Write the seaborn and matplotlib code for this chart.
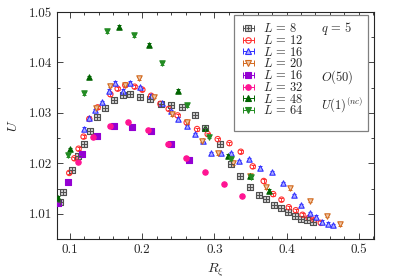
import numpy as np
import matplotlib
matplotlib.use("Agg")
import matplotlib.pyplot as plt
import seaborn as sns
from matplotlib.lines import Line2D
from matplotlib.legend_handler import HandlerLine2D, HandlerTuple
from matplotlib.ticker import MultipleLocator

# q = 5
x_l8 = [0.0859, 0.0907, 0.1028, 0.1108, 0.1188, 0.1281, 0.1374, 0.1485, 0.1604, 0.1732, 0.1836,
        0.1974, 0.2113, 0.2258, 0.2404, 0.2556, 0.2730, 0.2875, 0.3083, 0.3236, 0.3360, 0.3489,
        0.3614, 0.3717, 0.3825, 0.3918, 0.4021, 0.4116, 0.4199, 0.4286, 0.4372]
u_l8 = [1.0124, 1.0143, 1.0186, 1.0215, 1.0239, 1.0265, 1.0292, 1.0309, 1.0326, 1.0336, 1.0338,
        1.0331, 1.0328, 1.0318, 1.0316, 1.0312, 1.0295, 1.0271, 1.0238, 1.0199, 1.0175, 1.0154,
        1.0138, 1.0129, 1.0117, 1.0112, 1.0103, 1.0096, 1.0090, 1.0087, 1.0083]

x_l12 = [0.0990, 0.1060, 0.1119, 0.1188, 0.1267, 0.1383, 0.1559, 0.1660, 0.1766, 0.1895, 0.2002,
         0.2123, 0.2252, 0.2367, 0.2491, 0.2616, 0.2760, 0.2907, 0.3046, 0.3208, 0.3365, 0.3531,
         0.3683, 0.3814, 0.3929, 0.4030, 0.4127, 0.4220, 0.4306, 0.4386, 0.4473]
u_l12 = [1.0181, 1.0210, 1.0229, 1.0253, 1.0288, 1.0311, 1.0337, 1.0348, 1.0355, 1.0352, 1.0346,
         1.0334, 1.0318, 1.0308, 1.0295, 1.0281, 1.0268, 1.0258, 1.0248, 1.0240, 1.0223, 1.0194,
         1.0165, 1.0139, 1.0128, 1.0113, 1.0107, 1.0098, 1.0092, 1.0088, 1.0082]

x_l16 = [0.1188, 0.1267, 0.1344, 0.1437, 0.1534, 0.1624, 0.1732, 0.1836, 0.1974, 0.2123, 0.2272,
         0.2400, 0.2501, 0.2616, 0.2733, 0.2838, 0.2958, 0.3093, 0.3231, 0.3337, 0.3481, 0.3638,
         0.3797, 0.3947, 0.4098, 0.4202, 0.4317, 0.4410, 0.4493, 0.4570, 0.4649]
u_l16 = [1.0269, 1.0290, 1.0305, 1.0321, 1.0344, 1.0360, 1.0344, 1.0360, 1.0351, 1.0334, 1.0319,
         1.0303, 1.0288, 1.0274, 1.0258, 1.0245, 1.0220, 1.0220, 1.0220, 1.0204, 1.0208, 1.0191,
         1.0182, 1.0161, 1.0137, 1.0117, 1.0101, 1.0094, 1.0084, 1.0080, 1.0077]

x_l20 = [0.1360, 0.1556, 0.1762, 0.1949, 0.2168, 0.2408, 0.2616, 0.2830, 0.3046, 0.3263, 0.3495,
         0.3717, 0.4040, 0.4317, 0.4555, 0.4744]
u_l20 = [1.0310, 1.0354, 1.0356, 1.0369, 1.0332, 1.0297, 1.0281, 1.0245, 1.0220, 1.0200, 1.0174,
         1.0153, 1.0151, 1.0126, 1.0096, 1.0079]

# O(50)
x_o16 = [0.0838, 0.0970, 0.1166, 0.1371, 0.1614, 0.1859, 0.2127, 0.2394, 0.2653]
u_o16 = [1.0121, 1.0164, 1.0218, 1.0255, 1.0274, 1.0273, 1.0264, 1.0238, 1.0207]
x_o32 = [0.1105, 0.1313, 0.1554, 0.1804, 0.2081, 0.2362, 0.2612, 0.2875, 0.3129, 0.3384]
u_o32 = [1.0203, 1.0252, 1.0274, 1.0282, 1.0266, 1.0238, 1.0211, 1.0182, 1.0159, 1.0136]

# U(1) non compact
x_u48 = [0.083, 0.0995, 0.127, 0.168, 0.209, 0.250, 0.287, 0.319, 0.349, 0.376]
u_u48 = [1.0132, 1.0228, 1.0371, 1.0471, 1.0435, 1.0344, 1.0271, 1.0215, 1.0175, 1.0146]
x_u64 = [0.097, 0.120, 0.151, 0.189, 0.227, 0.262, 0.293, 0.323, 0.351]
u_u64 = [1.0216, 1.0339, 1.0462, 1.0454, 1.0398, 1.0315, 1.0253, 1.0209, 1.0172]

err = 0.0003

sns.set_style("ticks")
plt.rcParams["font.family"] = ["cmr10", "DejaVu Serif"]
plt.rcParams["mathtext.fontset"] = "cm"
plt.rcParams["axes.formatter.use_mathtext"] = True
plt.rcParams["axes.unicode_minus"] = False

fig = plt.figure(figsize=(3.95, 2.8), dpi=100)
ax = fig.add_axes([0.1443, 0.1464, 0.8025, 0.8106])

# (x, y, color, marker, face, label)
series = [
    (x_l8, u_l8, "#505050", "s", "#d0d0d0", r"$L\,=\,8$"),
    (x_l12, u_l12, "#ff3030", "o", "none", r"$L\,=\,12$"),
    (x_l16, u_l16, "#3030ff", "^", "#b0b0ff", r"$L\,=\,16$"),
    (x_l20, u_l20, "#d2691e", "v", "#f0c8a8", r"$L\,=\,20$"),
    (x_o16, u_o16, "#9400d3", "s", "#9400d3", r"$L\,=\,16$"),
    (x_o32, u_o32, "#ff1493", "o", "#ff1493", r"$L\,=\,32$"),
    (x_u48, u_u48, "#006400", "^", "#006400", r"$L\,=\,48$"),
    (x_u64, u_u64, "#228b22", "v", "#228b22", r"$L\,=\,64$"),
]

handles = []
hmap = {}
for i, (x, y, col, mk, fc, lab) in enumerate(series):
    ax.errorbar(x, y, yerr=err, fmt="none", ecolor=col, elinewidth=0.7, capsize=1.6,
                capthick=0.7, zorder=2)
    sns.scatterplot(x=x, y=y, ax=ax, marker=mk, s=15, color=fc if fc != "none" else "none",
                    edgecolor=col, linewidth=0.8, zorder=3, legend=False)
    if i == 0:
        sns.scatterplot(x=x, y=y, ax=ax, marker="+", s=13, color=col, linewidth=0.7,
                        zorder=4, legend=False)
    cap = Line2D([], [], color=col, lw=0.7, marker="|", ms=4, mew=0.7)
    mark = Line2D([], [], ls="none", marker=mk, ms=4, mfc=fc, mec=col, mew=0.8)
    hmap[cap] = HandlerLine2D(numpoints=2)
    if i == 0:
        plus = Line2D([], [], ls="none", marker="+", ms=3.5, color=col, mew=0.7)
        handles.append((cap, mark, plus))
    else:
        handles.append((cap, mark))

labels = [s[5] for s in series]
group = [r"$q\,=\,5$", "", "", "", "$O(50)$", "", "$U(1)^{(nc)}$", ""]
blank = [Line2D([], [], ls="none") for _ in group]
hmap[tuple] = HandlerTuple(ndivide=1, pad=0)

leg = ax.legend(handles + blank, labels + group, ncol=2, loc="upper right",
                bbox_to_anchor=(0.981, 0.987), borderaxespad=0, fontsize=9, frameon=True,
                fancybox=False, edgecolor="#808080", framealpha=1, labelspacing=-0.1,
                handlelength=1.45, handletextpad=0.45, columnspacing=-0.5, borderpad=0.42,
                numpoints=1, handler_map=hmap)
leg.get_frame().set_linewidth(0.9)

ax.set_xlim(0.082, 0.521)
ax.set_ylim(1.005, 1.05)
ax.xaxis.set_major_locator(MultipleLocator(0.1))
ax.xaxis.set_minor_locator(MultipleLocator(0.02))
ax.yaxis.set_major_locator(MultipleLocator(0.01))
ax.yaxis.set_minor_locator(MultipleLocator(0.005))
ax.tick_params(which="both", direction="in", top=True, right=True, labelsize=9.5)
ax.tick_params(which="major", length=4, width=0.6)
ax.tick_params(which="minor", length=2.5, width=0.6)
ax.xaxis.set_major_formatter(matplotlib.ticker.FuncFormatter(lambda v, p: f"{v:.1f}"))
ax.yaxis.set_major_formatter(matplotlib.ticker.FuncFormatter(lambda v, p: f"{v:.2f}"))
for sp in ax.spines.values():
    sp.set_linewidth(0.8)

ax.set_xlabel(r"$R_\xi$", fontsize=10, labelpad=4)
ax.set_ylabel(r"$U$", fontsize=10, labelpad=6)

fig.savefig("out.png", dpi=100)
